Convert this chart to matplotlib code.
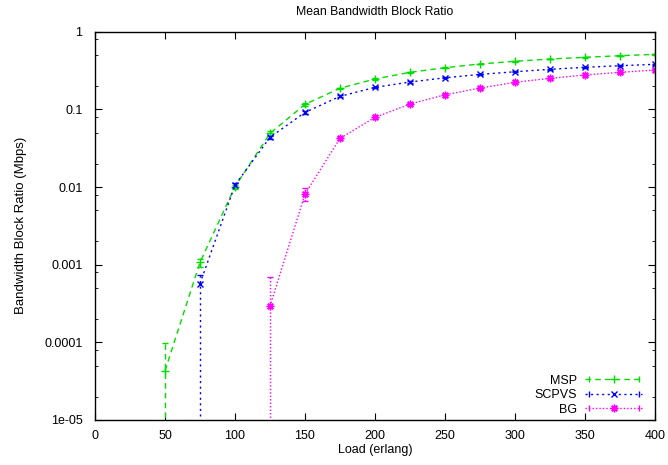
import numpy as np
import matplotlib
matplotlib.use('Agg')
from matplotlib import pyplot as plt
from matplotlib.ticker import FixedLocator, FixedFormatter, NullFormatter
from matplotlib.lines import Line2D
from matplotlib.legend_handler import HandlerLine2D, HandlerTuple

# data (gnuplot style yerrorlines, log y)
load = [50, 75, 100, 125, 150, 175, 200, 225, 250, 275, 300, 325, 350, 375, 400]

msp = [4.3e-5, 1.07e-3, 0.0101, 0.049, 0.116, 0.187, 0.246, 0.300, 0.344,
       0.384, 0.416, 0.445, 0.468, 0.491, 0.511]
msp_err_lo = [4.3e-5, 0.15e-3, 0.0006, 0.003, 0.004, 0.004, 0.004, 0.004, 0.004,
              0.004, 0.004, 0.004, 0.004, 0.004, 0.004]
msp_err_hi = [5.6e-5, 0.12e-3, 0.0006, 0.003, 0.004, 0.004, 0.004, 0.004, 0.004,
              0.004, 0.004, 0.004, 0.004, 0.004, 0.004]

scpvs_load = load[1:]
scpvs = [5.7e-4, 0.0106, 0.0436, 0.0914, 0.147, 0.192, 0.225, 0.255, 0.282,
         0.305, 0.328, 0.348, 0.365, 0.380]
scpvs_err_lo = [5.7e-4, 0.0006, 0.002, 0.003, 0.004, 0.004, 0.004, 0.004, 0.004,
                0.004, 0.004, 0.004, 0.004, 0.004]
scpvs_err_hi = [1.6e-4, 0.0006, 0.002, 0.003, 0.004, 0.004, 0.004, 0.004, 0.004,
                0.004, 0.004, 0.004, 0.004, 0.004]

bg_load = load[3:]
bg = [2.92e-4, 0.0081, 0.0423, 0.0789, 0.117, 0.154, 0.188, 0.223, 0.251,
      0.277, 0.300, 0.321]
bg_err_lo = [2.92e-4, 0.0015, 0.002, 0.002, 0.003, 0.003, 0.003, 0.003, 0.003,
             0.003, 0.003, 0.003]
bg_err_hi = [4.1e-4, 0.0015, 0.002, 0.002, 0.003, 0.003, 0.003, 0.003, 0.003,
             0.003, 0.003, 0.003]

x_ticks = [0, 50, 100, 150, 200, 250, 300, 350, 400]
y_ticks = [1e-5, 1e-4, 1e-3, 1e-2, 1e-1, 1]
y_labels = ['1e-05', '0.0001', '0.001', '0.01', '0.1', '1']

plt.rcParams['font.family'] = ['Liberation Sans', 'DejaVu Sans']
plt.rcParams['font.size'] = 9


def yerr_pair(vals, lo, hi):
	v = np.array(vals)
	lo = np.array(lo, dtype=float)
	# a bar reaching zero is sent just under the bottom of the log axis
	lo = np.where(v - lo <= 0, v - 1e-8, lo)
	return [lo, np.array(hi)]


fig = plt.figure(figsize=(6.68, 4.65), dpi=100)
ax = fig.add_axes([0.1422, 0.0968, 0.8383, 0.835])
ax.set_yscale('log')

series = [
	(load, msp, msp_err_lo, msp_err_hi, '#00dd00', (0, (4, 3)), '+', 6, 'MSP'),
	(scpvs_load, scpvs, scpvs_err_lo, scpvs_err_hi, '#0000ff', (0, (1.5, 2.5)), 'x', 4.5, 'SCPVS'),
	(bg_load, bg, bg_err_lo, bg_err_hi, '#ff00ff', (0, (1, 1.5)), (8, 2, 0), 5.5, 'BG'),
]

handles = []
hmap = {}
for xs, ys, lo, hi, col, ls, mk, ms, lab in series:
	eb = ax.errorbar(xs, ys, yerr=yerr_pair(ys, lo, hi), color=col, lw=1, ls=ls,
		marker=mk, ms=ms, mew=1, capsize=2.5, elinewidth=1)
	eb[2][0].set_linestyle(ls)
	# gnuplot-like key sample: line with marker, end caps
	ln = Line2D([], [], color=col, lw=1, ls=ls, marker=mk, ms=ms, mew=1)
	cap = Line2D([], [], color=col, lw=0, marker='|', ms=5, mew=1)
	hmap[cap] = HandlerLine2D(numpoints=2)
	handles.append(((ln, cap), lab))

ax.set_xlim(0, 400)
ax.set_ylim(1e-5, 1)
ax.set_xticks(x_ticks)
ax.yaxis.set_major_locator(FixedLocator(y_ticks))
ax.yaxis.set_major_formatter(FixedFormatter(y_labels))
minor = [m * 10.0 ** d for d in range(-5, 0) for m in (2, 5, 8)]
ax.yaxis.set_minor_locator(FixedLocator(minor))
ax.yaxis.set_minor_formatter(NullFormatter())

ax.tick_params(which='both', direction='in', top=True, right=True, labelsize=9)
ax.tick_params(axis='y', pad=9)
ax.tick_params(axis='x', pad=7)
ax.tick_params(which='major', length=5)
ax.tick_params(which='minor', length=2.5)
for s in ax.spines.values():
	s.set_linewidth(1)

ax.set_title('Mean Bandwidth Block Ratio', fontsize=8.8, pad=12)
ax.set_xlabel('Load (erlang)', fontsize=9, labelpad=2)
ax.set_ylabel('Bandwidth Block Ratio (Mbps)', fontsize=9.5, labelpad=12)

hmap[tuple] = HandlerTuple(ndivide=1)
ax.legend([h for h, _ in handles], [l for _, l in handles], handler_map=hmap,
	loc='lower right', bbox_to_anchor=(0.982, 0.005), frameon=False,
	markerfirst=False, fontsize=9, handlelength=4.6, handletextpad=0.6,
	labelspacing=0.2, borderaxespad=0.1, borderpad=0.1)

fig.savefig('out.png', dpi=100)
